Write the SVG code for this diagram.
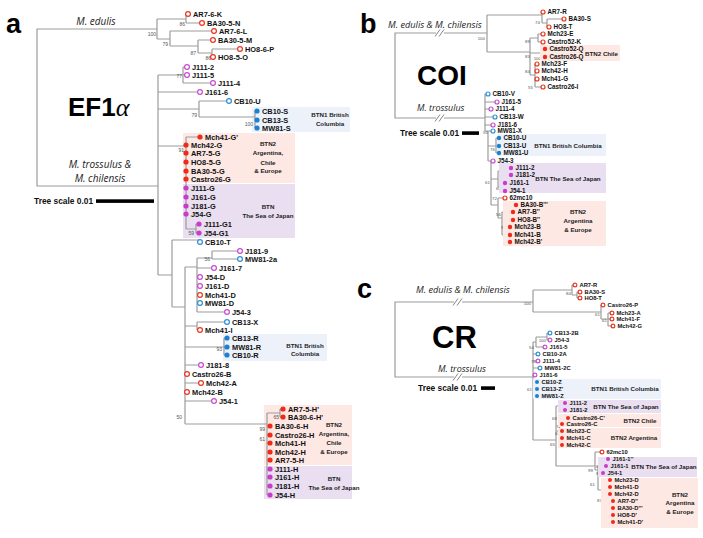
<svg xmlns="http://www.w3.org/2000/svg" width="703" height="538" viewBox="0 0 703 538">
<style>
.br{stroke:#9c9c9c;stroke-width:1.2;fill:none}
.oR{fill:#fff;stroke:#e8361f;stroke-width:1.2}
.fR{fill:#ee2a1a}
.oB{fill:#fff;stroke:#2a8fd8;stroke-width:1.2}
.fB{fill:#1a82d2}
.oP{fill:#fff;stroke:#c84ad0;stroke-width:1.2}
.fP{fill:#c93cc9}
.ta{font-family:"Liberation Sans",Arial,sans-serif;font-weight:bold;font-size:7.4px;fill:#111}
.tb{font-family:"Liberation Sans",Arial,sans-serif;font-weight:bold;font-size:6.3px;fill:#111}
.tc{font-family:"Liberation Sans",Arial,sans-serif;font-weight:bold;font-size:5.8px;fill:#111}
.bs{font-family:"Liberation Sans",Arial,sans-serif;font-size:5px;fill:#555;text-anchor:end}
.bs2{font-family:"Liberation Sans",Arial,sans-serif;font-size:4.4px;fill:#555;text-anchor:end}
.bx{font-family:"Liberation Sans",Arial,sans-serif;font-weight:bold;font-size:6.2px;fill:#222;text-anchor:middle}
.bxl{font-family:"Liberation Sans",Arial,sans-serif;font-weight:bold;font-size:6.2px;fill:#222}
.it{font-family:"Open Sans","DejaVu Sans",sans-serif;font-style:italic;fill:#222}
.big{font-family:"Liberation Sans",Arial,sans-serif;font-weight:bold;fill:#000}
.sc{font-family:"Liberation Sans",Arial,sans-serif;font-weight:bold;font-size:8.4px;fill:#111}
.pb{fill:#edf2fa}.pp{fill:#fde8e4}.pu{fill:#e9dff0}
.brk{stroke:#777;stroke-width:0.9}
</style>

<!-- ===== PANEL A ===== -->
<g id="panelA-labels">
<text class="big" x="6" y="33" font-size="27">a</text>
<text class="big" x="68" y="116" font-size="26">EF1<tspan font-family="Liberation Serif,serif" font-style="italic" font-weight="normal">α</tspan></text>
<text class="it" x="96" y="25" font-size="10" text-anchor="middle">M. edulis</text>
<text class="it" x="100" y="168" font-size="10" text-anchor="middle">M. trossulus &amp;</text>
<text class="it" x="100" y="182" font-size="10" text-anchor="middle">M. chilensis</text>
<text class="sc" x="34" y="204">Tree scale 0.01</text>
<rect x="96" y="199.3" width="58" height="3.6" fill="#000"/>
</g>

<g id="panelA-clades">
<rect class="pb" x="252" y="107" width="98" height="25"/>
<text class="bx" x="330" y="117">BTN1 British</text><text class="bx" x="330" y="126">Columbia</text>
<rect class="pp" x="183" y="133" width="112" height="50"/>
<text class="bx" x="268" y="146">BTN2</text><text class="bx" x="268" y="155">Argentina,</text><text class="bx" x="268" y="165">Chile</text><text class="bx" x="268" y="173">&amp; Europe</text>
<rect class="pu" x="183" y="184" width="112" height="54"/>
<text class="bx" x="268" y="209">BTN</text><text class="bx" x="268" y="218">The Sea of Japan</text>
<rect class="pb" x="223" y="334" width="104" height="27"/>
<text class="bx" x="305" y="348">BTN1 British</text><text class="bx" x="305" y="356">Columbia</text>
<rect class="pp" x="264" y="405" width="88" height="60"/>
<text class="bx" x="334" y="427">BTN2</text><text class="bx" x="334" y="436">Argentina,</text><text class="bx" x="334" y="445">Chile</text><text class="bx" x="334" y="454">&amp; Europe</text>
<rect class="pu" x="264" y="466" width="88" height="33"/>
<text class="bx" x="334" y="481">BTN</text><text class="bx" x="334" y="490">The Sea of Japan</text>
</g>

<g id="connectors">
<!-- panel a -->
<path class="br" d="M157,29 H37 V186 H158
M157,19 V39 M157,19 H186 M186,14 V23 M186,14 H188 M186,23 H202 M157,39 H170 M170,31 V46 M170,31 H214 M170,46 H198 M198,40 V53 M198,40 H213 M198,53 H212 M212,49 V57 M212,49 H240 M212,57 H213
M158,75 V275 M158,75 H183 M183,67 V83 M183,67 H187 M183,75 H187 M183,83 H213 M158,92 H200
M158,109 H199 M199,101 V117 M199,101 H229 M199,117 H255 M255,111 V128 M255,111 H257 M255,120 H257 M255,128 H257
M158,146 H186 M186,137 V229 M186,137 H200 M186,229 H196 M196,224 V233 M196,224 H199 M196,233 H199
M158,275 H172 M172,240 V307 M172,240 H200 M172,307 H185 M185,267 V424
M185,267 H197 M197,258 V312 M197,258 H212 M212,251 V259 M212,251 H240 M212,259 H240 M197,268 H214 M197,277 H200 M197,286 H200 M197,295 H200 M197,303 H200 M197,312 H227
M185,326 H197 M197,322 V330 M197,322 H227 M197,330 H200
M185,347 H224 M224,338 V355 M224,338 H227 M224,347 H227 M224,355 H227
M185,365 H201 M185,374 H187 M185,383 H201 M185,392 H187 M185,401 H214
M185,424 H267 M267,413 V495 M267,413 H280 M280,409 V417 M280,409 H283 M280,417 H283"/>
<!-- panel b -->
<path class="br" d="M487,33 H395 V118 H485
M487,15 V52 M487,15 H542 M542,12 V23 M542,12 H543 M542,23 H547 M547,19 V27 M547,19 H564 M547,27 H549
M487,52 H530 M530,38 V75 M530,38 H538 M538,34 V42 M538,34 H543 M538,42 H543 M530,53 H542 M542,49 V57 M542,49 H545 M542,57 H545 M530,75 H535 M535,64 V87 M535,64 H537 M535,71 H537 M535,79 H537 M535,87 H543
M485,94 V131 M485,94 H488 M485,102 H497 M485,109 H491 M485,117 H495 M485,125 H493
M485,131 H488 M488,131 V161 M488,131 H493 M488,146 H496 M496,138 V153 M496,138 H499 M496,146 H499 M496,153 H499 M488,161 H491
M491,161 V205 M491,161 H493 M491,179 H498 M498,171 V187 M498,171 H508 M508,168 V175 M508,168 H511 M508,175 H511 M498,187 H502 M502,183 V191 M502,183 H505 M502,191 H505
M491,205 H498 M498,198 V218 M498,198 H505 M498,218 H502 M502,212 V235 M502,212 H510 M502,235 H507 M510,205 V220 M510,205 H516 M510,212 H513 M510,220 H513 M507,227 V242 M507,227 H510 M507,235 H510 M507,242 H510"/>
<!-- panel c -->
<path class="br" d="M533,302 H395 V377 H533
M533,290 V312 M533,290 H572 M572,285 V295 M572,285 H575 M572,295 H577 M577,292 V298 M577,292 H580 M577,298 H580 M533,312 H601 M601,305 V319 M601,305 H603 M601,319 H608 M608,313 V326 M608,313 H612 M608,319 H612 M608,326 H613
M533,342 V440 M533,342 H536 M536,337 V347 M536,337 H547 M547,333 V340 M547,333 H550 M547,340 H550 M536,347 H545
M533,354 H538 M533,361 H538 M533,368 H540 M533,375 H535 M533,382 H537 M533,389 H537 M533,396 H537
M533,440 H556 M556,406 V466 M556,406 H562 M562,403 V410 M562,403 H565 M562,410 H565
M556,431 H559 M559,418 V445 M559,418 H568 M559,424 H562 M559,431 H562 M559,438 H562 M559,445 H562
M556,466 H595 M595,452 V470 M595,452 H602 M595,470 H598 M598,466 V490 M598,466 H601 M601,459 V473 M601,459 H608 M601,466 H606 M601,473 H603
M598,490 H603 M603,487 V511 M603,487 H607 M607,480 V494 M607,480 H610 M607,487 H610 M607,494 H610 M603,511 H610 M610,501 V522 M610,501 H613 M610,508 H613 M610,515 H613 M610,522 H613"/>
<!-- breaks -->
<g id="breaks">
<rect x="436" y="30" width="8" height="6" fill="#fff"/><line class="brk" x1="435" y1="36.5" x2="440" y2="29.5"/><line class="brk" x1="439" y1="36.5" x2="444" y2="29.5"/>
<rect x="436" y="115" width="8" height="6" fill="#fff"/><line class="brk" x1="435" y1="121.5" x2="440" y2="114.5"/><line class="brk" x1="439" y1="121.5" x2="444" y2="114.5"/>
<rect x="454" y="299" width="8" height="6" fill="#fff"/><line class="brk" x1="453" y1="305.5" x2="458" y2="298.5"/><line class="brk" x1="457" y1="305.5" x2="462" y2="298.5"/>
<rect x="454" y="374" width="8" height="6" fill="#fff"/><line class="brk" x1="453" y1="380.5" x2="458" y2="373.5"/><line class="brk" x1="457" y1="380.5" x2="462" y2="373.5"/>
</g>
</g>

<g id="bootstrap">
<text class="bs" x="156" y="36">100</text><text class="bs" x="185" y="26">86</text><text class="bs" x="168" y="46">79</text><text class="bs" x="196" y="55">87</text><text class="bs" x="211" y="60">86</text>
<text class="bs" x="182" y="78">77</text><text class="bs" x="197" y="117">79</text><text class="bs" x="253" y="126">100</text><text class="bs" x="184" y="152">91</text><text class="bs" x="194" y="235">59</text>
<text class="bs" x="210" y="261">56</text><text class="bs" x="222" y="351">93</text><text class="bs" x="182" y="419">50</text><text class="bs" x="279" y="419">65</text><text class="bs" x="265" y="431">99</text><text class="bs" x="265" y="441">61</text>
<text class="bs2" x="485" y="40">100</text><text class="bs2" x="540" y="24">74</text><text class="bs2" x="530" y="43">89</text><text class="bs2" x="530" y="58">83</text><text class="bs2" x="541" y="60">100</text><text class="bs2" x="530" y="73">84</text><text class="bs2" x="533" y="89">55</text>
<text class="bs2" x="488" y="134">55</text><text class="bs2" x="495" y="151">76</text><text class="bs2" x="507" y="177">100</text><text class="bs2" x="501" y="190">66</text><text class="bs2" x="490" y="184">61</text><text class="bs2" x="497" y="200">72</text><text class="bs2" x="501" y="216">56</text><text class="bs2" x="509" y="214">66</text><text class="bs2" x="506" y="229">94</text>
<text class="bs2" x="531" y="305">100</text><text class="bs2" x="571" y="295">84</text><text class="bs2" x="600" y="316">61</text><text class="bs2" x="607" y="322">61</text>
<text class="bs2" x="546" y="342">100</text><text class="bs2" x="534" y="349">54</text><text class="bs2" x="536" y="363">70</text><text class="bs2" x="532" y="391">61</text>
<text class="bs2" x="563" y="412">95</text><text class="bs2" x="557" y="420">68</text><text class="bs2" x="561" y="428">77</text><text class="bs2" x="560" y="435">62</text><text class="bs2" x="555" y="446">65</text>
<text class="bs2" x="593" y="472">99</text><text class="bs2" x="601" y="468">88</text><text class="bs2" x="601" y="475">89</text><text class="bs2" x="595" y="486">61</text><text class="bs2" x="607" y="490">77</text><text class="bs2" x="602" y="502">87</text><text class="bs2" x="610" y="513">98</text>
</g>

<g id="panelA-tips">
<g id="a1"><circle class="oR" cx="188" cy="14" r="2.4"/><text class="ta" x="193" y="16.7">AR7-6-K</text></g>
<g id="a2"><circle class="oR" cx="202" cy="23" r="2.4"/><text class="ta" x="207" y="25.7">BA30-5-N</text></g>
<g id="a3"><circle class="oR" cx="214" cy="31" r="2.4"/><text class="ta" x="219" y="33.7">AR7-6-L</text></g>
<g id="a4"><circle class="oR" cx="213" cy="40" r="2.4"/><text class="ta" x="218" y="42.7">BA30-5-M</text></g>
<g id="a5"><circle class="oR" cx="240" cy="49" r="2.4"/><text class="ta" x="245" y="51.7">HO8-6-P</text></g>
<g id="a6"><circle class="oR" cx="213" cy="57" r="2.4"/><text class="ta" x="218" y="59.7">HO8-5-O</text></g>
<g id="a7"><circle class="oP" cx="187" cy="67" r="2.4"/><text class="ta" x="192" y="69.7">J111-2</text></g>
<g id="a8"><circle class="oP" cx="187" cy="75" r="2.4"/><text class="ta" x="192" y="77.7">J111-5</text></g>
<g id="a9"><circle class="oP" cx="213" cy="83" r="2.4"/><text class="ta" x="218" y="85.7">J111-4</text></g>
<g id="a10"><circle class="oP" cx="200" cy="92" r="2.4"/><text class="ta" x="205" y="94.7">J161-6</text></g>
<g id="a11"><circle class="oB" cx="229" cy="101" r="2.4"/><text class="ta" x="234" y="103.7">CB10-U</text></g>
<g id="a12"><circle class="fB" cx="257" cy="111" r="2.6"/><text class="ta" x="262" y="113.7">CB10-S</text></g>
<g id="a13"><circle class="fB" cx="257" cy="120" r="2.6"/><text class="ta" x="262" y="122.7">CB13-S</text></g>
<g id="a14"><circle class="fB" cx="257" cy="128" r="2.6"/><text class="ta" x="262" y="130.7">MW81-S</text></g>
<g id="a15"><circle class="fR" cx="200" cy="137" r="2.6"/><text class="ta" x="205" y="139.7">Mch41-G'</text></g>
<g id="a16"><circle class="fR" cx="186" cy="145" r="2.6"/><text class="ta" x="191" y="147.7">Mch42-G</text></g>
<g id="a17"><circle class="fR" cx="186" cy="153" r="2.6"/><text class="ta" x="191" y="155.7">AR7-5-G</text></g>
<g id="a18"><circle class="fR" cx="186" cy="162" r="2.6"/><text class="ta" x="191" y="164.7">HO8-5-G</text></g>
<g id="a19"><circle class="fR" cx="186" cy="171" r="2.6"/><text class="ta" x="191" y="173.7">BA30-5-G</text></g>
<g id="a20"><circle class="fR" cx="186" cy="179" r="2.6"/><text class="ta" x="191" y="181.7">Castro26-G</text></g>
<g id="a21"><circle class="fP" cx="186" cy="188" r="2.6"/><text class="ta" x="191" y="190.7">J111-G</text></g>
<g id="a22"><circle class="fP" cx="186" cy="197" r="2.6"/><text class="ta" x="191" y="199.7">J161-G</text></g>
<g id="a23"><circle class="fP" cx="186" cy="206" r="2.6"/><text class="ta" x="191" y="208.7">J181-G</text></g>
<g id="a24"><circle class="fP" cx="186" cy="214" r="2.6"/><text class="ta" x="191" y="216.7">J54-G</text></g>
<g id="a25"><circle class="fP" cx="199" cy="224" r="2.6"/><text class="ta" x="204" y="226.7">J111-G1</text></g>
<g id="a26"><circle class="fP" cx="199" cy="233" r="2.6"/><text class="ta" x="204" y="235.7">J54-G1</text></g>
<g id="a27"><circle class="oB" cx="200" cy="242" r="2.4"/><text class="ta" x="205" y="244.7">CB10-T</text></g>
<g id="a28"><circle class="oP" cx="240" cy="251" r="2.4"/><text class="ta" x="245" y="253.7">J181-9</text></g>
<g id="a29"><circle class="oB" cx="240" cy="259" r="2.4"/><text class="ta" x="245" y="261.7">MW81-2a</text></g>
<g id="a30"><circle class="oP" cx="214" cy="268" r="2.4"/><text class="ta" x="219" y="270.7">J161-7</text></g>
<g id="a31"><circle class="oP" cx="200" cy="277" r="2.4"/><text class="ta" x="205" y="279.7">J54-D</text></g>
<g id="a32"><circle class="oP" cx="200" cy="286" r="2.4"/><text class="ta" x="205" y="288.7">J161-D</text></g>
<g id="a33"><circle class="oR" cx="200" cy="295" r="2.4"/><text class="ta" x="205" y="297.7">Mch41-D</text></g>
<g id="a34"><circle class="oB" cx="200" cy="303" r="2.4"/><text class="ta" x="205" y="305.7">MW81-D</text></g>
<g id="a35"><circle class="oP" cx="227" cy="312" r="2.4"/><text class="ta" x="232" y="314.7">J54-3</text></g>
<g id="a36"><circle class="oB" cx="227" cy="322" r="2.4"/><text class="ta" x="232" y="324.7">CB13-X</text></g>
<g id="a37"><circle class="oR" cx="200" cy="330" r="2.4"/><text class="ta" x="205" y="332.7">Mch41-I</text></g>
<g id="a38"><circle class="fB" cx="227" cy="338" r="2.6"/><text class="ta" x="232" y="340.7">CB13-R</text></g>
<g id="a39"><circle class="fB" cx="227" cy="347" r="2.6"/><text class="ta" x="232" y="349.7">MW81-R</text></g>
<g id="a40"><circle class="fB" cx="227" cy="355" r="2.6"/><text class="ta" x="232" y="357.7">CB10-R</text></g>
<g id="a41"><circle class="oP" cx="201" cy="365" r="2.4"/><text class="ta" x="206" y="367.7">J181-8</text></g>
<g id="a42"><circle class="oR" cx="187" cy="374" r="2.4"/><text class="ta" x="192" y="376.7">Castro26-B</text></g>
<g id="a43"><circle class="oR" cx="201" cy="383" r="2.4"/><text class="ta" x="206" y="385.7">Mch42-A</text></g>
<g id="a44"><circle class="oR" cx="187" cy="392" r="2.4"/><text class="ta" x="192" y="394.7">Mch42-B</text></g>
<g id="a45"><circle class="oP" cx="214" cy="401" r="2.4"/><text class="ta" x="219" y="403.7">J54-1</text></g>
<g id="a46"><circle class="fR" cx="283" cy="409" r="2.6"/><text class="ta" x="288" y="411.7">AR7-5-H'</text></g>
<g id="a47"><circle class="fR" cx="283" cy="417" r="2.6"/><text class="ta" x="288" y="419.7">BA30-6-H'</text></g>
<g id="a48"><circle class="fR" cx="270" cy="426" r="2.6"/><text class="ta" x="275" y="428.7">BA30-6-H</text></g>
<g id="a49"><circle class="fR" cx="270" cy="435" r="2.6"/><text class="ta" x="275" y="437.7">Castro26-H</text></g>
<g id="a50"><circle class="fR" cx="270" cy="443" r="2.6"/><text class="ta" x="275" y="445.7">Mch41-H</text></g>
<g id="a51"><circle class="fR" cx="270" cy="452" r="2.6"/><text class="ta" x="275" y="454.7">Mch42-H</text></g>
<g id="a52"><circle class="fR" cx="270" cy="460" r="2.6"/><text class="ta" x="275" y="462.7">AR7-5-H</text></g>
<g id="a53"><circle class="fP" cx="270" cy="469" r="2.6"/><text class="ta" x="275" y="471.7">J111-H</text></g>
<g id="a54"><circle class="fP" cx="270" cy="477" r="2.6"/><text class="ta" x="275" y="479.7">J161-H</text></g>
<g id="a55"><circle class="fP" cx="270" cy="486" r="2.6"/><text class="ta" x="275" y="488.7">J181-H</text></g>
<g id="a56"><circle class="fP" cx="270" cy="495" r="2.6"/><text class="ta" x="275" y="497.7">J54-H</text></g>
</g>

<!-- ===== PANEL B ===== -->
<g id="panelB-labels">
<text class="big" x="360" y="33" font-size="27">b</text>
<text class="big" x="417" y="85" font-size="28">COI</text>
<text class="it" x="388" y="28" font-size="9.2">M. edulis &amp; M. chilensis</text>
<text class="it" x="417" y="111" font-size="8.9">M. trossulus</text>
<text class="sc" x="400" y="136">Tree scale 0.01</text>
<rect x="462" y="131.3" width="17" height="3.6" fill="#000"/>
</g>
<g id="panelB-clades">
<rect class="pp" x="540" y="45" width="80" height="16"/>
<text class="bxl" x="585" y="55.5">BTN2 Chile</text>
<rect class="pb" x="497" y="134" width="109" height="22"/>
<text class="bx" x="568" y="148">BTN1 British Columbia</text>
<rect class="pu" x="499" y="163" width="107" height="30"/>
<text class="bx" x="568" y="181">BTN The Sea of Japan</text>
<rect class="pp" x="503" y="201" width="103" height="45"/>
<text class="bx" x="578" y="214">BTN2</text><text class="bx" x="578" y="223">Argentina</text><text class="bx" x="578" y="232">&amp; Europe</text>
</g>
<g id="panelB-tips">
<g id="b1"><circle class="oR" cx="543" cy="12" r="2"/><text class="tb" x="547.5" y="14.3">AR7-R</text></g>
<g id="b2"><circle class="oR" cx="564" cy="19" r="2"/><text class="tb" x="568.5" y="21.3">BA30-S</text></g>
<g id="b3"><circle class="oR" cx="549" cy="27" r="2"/><text class="tb" x="553.5" y="29.3">HO8-T</text></g>
<g id="b4"><circle class="oR" cx="543" cy="34" r="2"/><text class="tb" x="547.5" y="36.3">Mch23-E</text></g>
<g id="b5"><circle class="oR" cx="543" cy="42" r="2"/><text class="tb" x="547.5" y="44.3">Castro52-K</text></g>
<g id="b6"><circle class="fR" cx="545" cy="49" r="2.2"/><text class="tb" x="549.5" y="51.3">Castro52-Q</text></g>
<g id="b7"><circle class="fR" cx="545" cy="57" r="2.2"/><text class="tb" x="549.5" y="59.3">Castro26-Q</text></g>
<g id="b8"><circle class="oR" cx="537" cy="64" r="2"/><text class="tb" x="541.5" y="66.3">Mch23-F</text></g>
<g id="b9"><circle class="oR" cx="537" cy="71" r="2"/><text class="tb" x="541.5" y="73.3">Mch42-H</text></g>
<g id="b10"><circle class="oR" cx="537" cy="79" r="2"/><text class="tb" x="541.5" y="81.3">Mch41-G</text></g>
<g id="b11"><circle class="oR" cx="543" cy="87" r="2"/><text class="tb" x="547.5" y="89.3">Castro26-I</text></g>
<g id="b12"><circle class="oB" cx="488" cy="94" r="2"/><text class="tb" x="492.5" y="96.3">CB10-V</text></g>
<g id="b13"><circle class="oP" cx="497" cy="102" r="2"/><text class="tb" x="501.5" y="104.3">J161-5</text></g>
<g id="b14"><circle class="oP" cx="491" cy="109" r="2"/><text class="tb" x="495.5" y="111.3">J111-4</text></g>
<g id="b15"><circle class="oB" cx="495" cy="117" r="2"/><text class="tb" x="499.5" y="119.3">CB13-W</text></g>
<g id="b16"><circle class="oP" cx="493" cy="125" r="2"/><text class="tb" x="497.5" y="127.3">J181-6</text></g>
<g id="b17"><circle class="oB" cx="493" cy="131" r="2"/><text class="tb" x="497.5" y="133.3">MW81-X</text></g>
<g id="b18"><circle class="fB" cx="499" cy="138" r="2.2"/><text class="tb" x="503.5" y="140.3">CB10-U</text></g>
<g id="b19"><circle class="fB" cx="499" cy="146" r="2.2"/><text class="tb" x="503.5" y="148.3">CB13-U</text></g>
<g id="b20"><circle class="fB" cx="499" cy="153" r="2.2"/><text class="tb" x="503.5" y="155.3">MW81-U</text></g>
<g id="b21"><circle class="oP" cx="493" cy="161" r="2"/><text class="tb" x="497.5" y="163.3">J54-3</text></g>
<g id="b22"><circle class="fP" cx="511" cy="168" r="2.2"/><text class="tb" x="515.5" y="170.3">J111-2</text></g>
<g id="b23"><circle class="fP" cx="511" cy="175" r="2.2"/><text class="tb" x="515.5" y="177.3">J181-2</text></g>
<g id="b24"><circle class="fP" cx="505" cy="183" r="2.2"/><text class="tb" x="509.5" y="185.3">J161-1</text></g>
<g id="b25"><circle class="fP" cx="505" cy="191" r="2.2"/><text class="tb" x="509.5" y="193.3">J54-1</text></g>
<g id="b26"><circle class="oR" cx="505" cy="198" r="2"/><text class="tb" x="509.5" y="200.3">62mc10</text></g>
<g id="b27"><circle class="fR" cx="516" cy="205" r="2.2"/><text class="tb" x="520.5" y="207.3">BA30-B'''</text></g>
<g id="b28"><circle class="fR" cx="513" cy="212" r="2.2"/><text class="tb" x="517.5" y="214.3">AR7-B''</text></g>
<g id="b29"><circle class="fR" cx="513" cy="220" r="2.2"/><text class="tb" x="517.5" y="222.3">HO8-B''</text></g>
<g id="b30"><circle class="fR" cx="510" cy="227" r="2.2"/><text class="tb" x="514.5" y="229.3">Mch23-B</text></g>
<g id="b31"><circle class="fR" cx="510" cy="235" r="2.2"/><text class="tb" x="514.5" y="237.3">Mch41-B</text></g>
<g id="b32"><circle class="fR" cx="510" cy="242" r="2.2"/><text class="tb" x="514.5" y="244.3">Mch42-B'</text></g>
</g>

<!-- ===== PANEL C ===== -->
<g id="panelC-labels">
<text class="big" x="357" y="298" font-size="27">c</text>
<text class="big" x="432" y="348" font-size="31">CR</text>
<text class="it" x="416" y="293" font-size="9.2">M. edulis &amp; M. chilensis</text>
<text class="it" x="438" y="372" font-size="9">M. trossulus</text>
<text class="sc" x="418" y="391">Tree scale 0.01</text>
<rect x="481" y="386.3" width="14" height="3.6" fill="#000"/>
</g>
<g id="panelC-clades">
<rect class="pb" x="533" y="379" width="128" height="20"/>
<text class="bx" x="625" y="391">BTN1 British Columbia</text>
<rect class="pu" x="558" y="400" width="103" height="13"/>
<text class="bx" x="626" y="409">BTN The Sea of Japan</text>
<rect class="pp" x="558" y="414" width="103" height="13"/>
<text class="bx" x="640" y="423">BTN2 Chile</text>
<rect class="pp" x="558" y="428" width="103" height="20"/>
<text class="bx" x="634" y="440">BTN2 Argentina</text>
<rect class="pu" x="598" y="457" width="99" height="20"/>
<text class="bx" x="664" y="469">BTN The Sea of Japan</text>
<rect class="pp" x="601" y="478" width="97" height="50"/>
<text class="bx" x="680" y="497">BTN2</text><text class="bx" x="680" y="505">Argentina</text><text class="bx" x="680" y="514">&amp; Europe</text>
</g>
<g id="panelC-tips">
<g id="c1"><circle class="oR" cx="575" cy="285" r="1.9"/><text class="tc" x="579.5" y="287">AR7-R</text></g>
<g id="c2"><circle class="oR" cx="580" cy="292" r="1.9"/><text class="tc" x="584.5" y="294">BA30-S</text></g>
<g id="c3"><circle class="oR" cx="580" cy="298" r="1.9"/><text class="tc" x="584.5" y="300">HO8-T</text></g>
<g id="c4"><circle class="oR" cx="603" cy="305" r="1.9"/><text class="tc" x="607.5" y="307">Castro26-P</text></g>
<g id="c5"><circle class="oR" cx="612" cy="313" r="1.9"/><text class="tc" x="616.5" y="315">Mch23-A</text></g>
<g id="c6"><circle class="oR" cx="612" cy="319" r="1.9"/><text class="tc" x="616.5" y="321">Mch41-F</text></g>
<g id="c7"><circle class="oR" cx="613" cy="326" r="1.9"/><text class="tc" x="617.5" y="328">Mch42-G</text></g>
<g id="c8"><circle class="oB" cx="550" cy="333" r="1.9"/><text class="tc" x="554.5" y="335">CB13-2B</text></g>
<g id="c9"><circle class="oP" cx="550" cy="340" r="1.9"/><text class="tc" x="554.5" y="342">J54-3</text></g>
<g id="c10"><circle class="oP" cx="545" cy="347" r="1.9"/><text class="tc" x="549.5" y="349">J161-5</text></g>
<g id="c11"><circle class="oB" cx="538" cy="354" r="1.9"/><text class="tc" x="542.5" y="356">CB10-2A</text></g>
<g id="c12"><circle class="oP" cx="538" cy="361" r="1.9"/><text class="tc" x="542.5" y="363">J111-4</text></g>
<g id="c13"><circle class="oB" cx="540" cy="368" r="1.9"/><text class="tc" x="544.5" y="370">MW81-2C</text></g>
<g id="c14"><circle class="oP" cx="535" cy="375" r="1.9"/><text class="tc" x="539.5" y="377">J181-6</text></g>
<g id="c15"><circle class="fB" cx="537" cy="382" r="2"/><text class="tc" x="541.5" y="384">CB10-Z</text></g>
<g id="c16"><circle class="fB" cx="537" cy="389" r="2"/><text class="tc" x="541.5" y="391">CB13-Z'</text></g>
<g id="c17"><circle class="fB" cx="537" cy="396" r="2"/><text class="tc" x="541.5" y="398">MW81-Z</text></g>
<g id="c18"><circle class="fP" cx="565" cy="403" r="2"/><text class="tc" x="569.5" y="405">J111-2</text></g>
<g id="c19"><circle class="fP" cx="565" cy="410" r="2"/><text class="tc" x="569.5" y="412">J181-2</text></g>
<g id="c20"><circle class="fR" cx="568" cy="418" r="2"/><text class="tc" x="572.5" y="420">Castro26-C'</text></g>
<g id="c21"><circle class="fR" cx="562" cy="424" r="2"/><text class="tc" x="566.5" y="426">Castro26-C</text></g>
<g id="c22"><circle class="fR" cx="562" cy="431" r="2"/><text class="tc" x="566.5" y="433">Mch23-C</text></g>
<g id="c23"><circle class="fR" cx="562" cy="438" r="2"/><text class="tc" x="566.5" y="440">Mch41-C</text></g>
<g id="c24"><circle class="fR" cx="562" cy="445" r="2"/><text class="tc" x="566.5" y="447">Mch42-C</text></g>
<g id="c25"><circle class="oR" cx="602" cy="452" r="1.9"/><text class="tc" x="606.5" y="454">62mc10</text></g>
<g id="c26"><circle class="fP" cx="608" cy="459" r="2"/><text class="tc" x="612.5" y="461">J161-1''</text></g>
<g id="c27"><circle class="fP" cx="606" cy="466" r="2"/><text class="tc" x="610.5" y="468">J161-1</text></g>
<g id="c28"><circle class="fP" cx="603" cy="473" r="2"/><text class="tc" x="607.5" y="475">J54-1</text></g>
<g id="c29"><circle class="fR" cx="610" cy="480" r="2"/><text class="tc" x="614.5" y="482">Mch23-D</text></g>
<g id="c30"><circle class="fR" cx="610" cy="487" r="2"/><text class="tc" x="614.5" y="489">Mch41-D</text></g>
<g id="c31"><circle class="fR" cx="610" cy="494" r="2"/><text class="tc" x="614.5" y="496">Mch42-D</text></g>
<g id="c32"><circle class="fR" cx="613" cy="501" r="2"/><text class="tc" x="617.5" y="503">AR7-D''</text></g>
<g id="c33"><circle class="fR" cx="613" cy="508" r="2"/><text class="tc" x="617.5" y="510">BA30-D'''</text></g>
<g id="c34"><circle class="fR" cx="613" cy="515" r="2"/><text class="tc" x="617.5" y="517">HO8-D'</text></g>
<g id="c35"><circle class="fR" cx="613" cy="522" r="2"/><text class="tc" x="617.5" y="524">Mch41-D'</text></g>
</g>
</svg>
